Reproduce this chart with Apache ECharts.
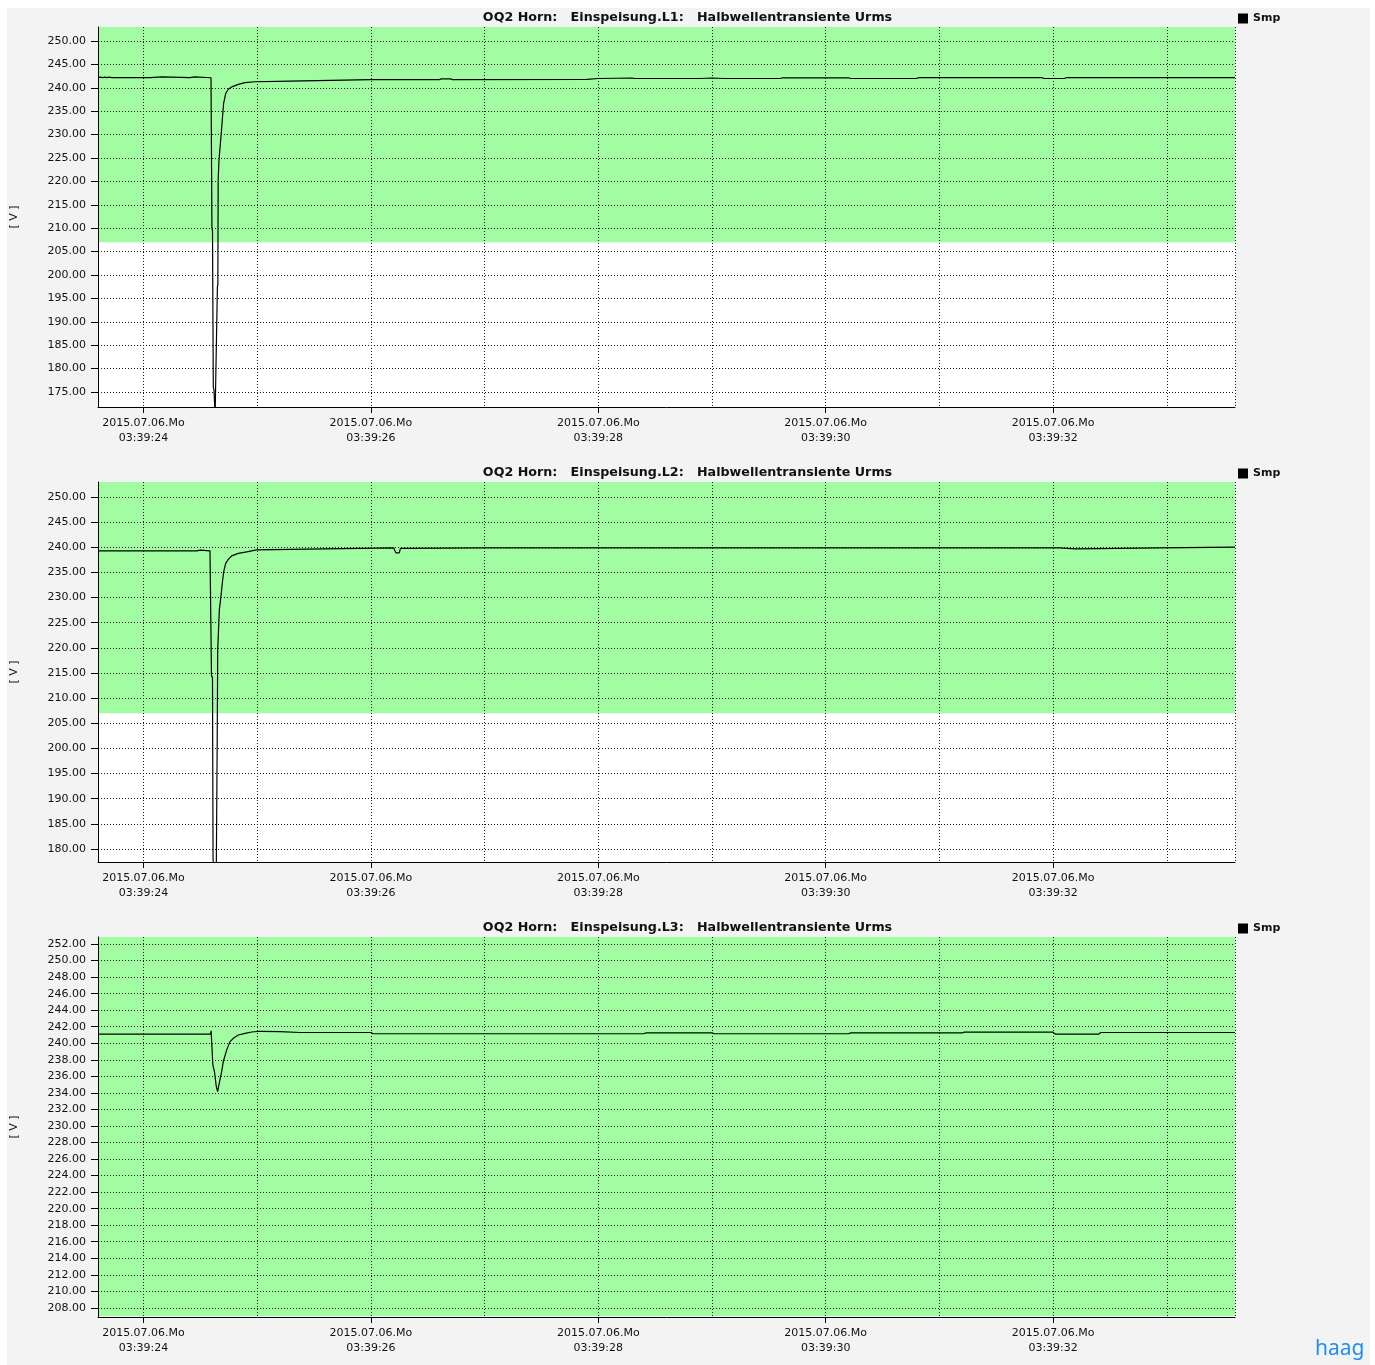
<!DOCTYPE html>
<html><head><meta charset="utf-8">
<script src="https://cdn.jsdelivr.net/npm/echarts@6/dist/echarts.min.js"></script>
<style>html,body{margin:0;padding:0;background:#fff}#c{width:1375px;height:1365px}</style>
</head><body><div id="c"></div>
<script>
// ---------- data ----------
const TITLES = [
  'OQ2 Horn:   Einspeisung.L1:   Halbwellentransiente Urms',
  'OQ2 Horn:   Einspeisung.L2:   Halbwellentransiente Urms',
  'OQ2 Horn:   Einspeisung.L3:   Halbwellentransiente Urms'
];
const SERIES_NAME = 'Smp';
const Y_UNIT = '[ V ]';
const DATE_LABEL = '2015.07.06.Mo';
const TIME_PREFIX = '03:39:';
const X_RANGE = [23.6, 33.6];          // seconds after 03:39:00
const X_TICKS = [24, 26, 28, 30, 32];
const LIMIT_LOW = 207;                 // lower edge of the green tolerance band

const Y1_RANGE = [171.8, 253.0];
const Y1_TICKS = [175,180,185,190,195,200,205,210,215,220,225,230,235,240,245,250];
const Y2_RANGE = [177.4, 253.0];
const Y2_TICKS = [180,185,190,195,200,205,210,215,220,225,230,235,240,245,250];
const Y3_RANGE = [206.9, 252.85];
const Y3_TICKS = [208,210,212,214,216,218,220,222,224,226,228,230,232,234,236,238,240,242,244,246,248,250,252];

// L1 samples: time [s], Urms [V]
const L1_T = [23.60,23.62,23.64,23.66,23.68,23.70,23.72,24.06,24.07,24.16,24.17,24.41,24.42,24.45,24.46,24.594,
  24.602,24.607,24.614,24.620,24.630,24.644,24.650,24.654,24.657,24.664,24.679,24.693,24.705,24.723,24.746,24.776,
  24.834,24.893,24.981,25.289,25.29,26.0,26.6,26.62,26.7,26.72,27.9,28.0,28.3,28.32,28.9,29.0,29.1,29.6,29.62,
  30.2,30.22,30.8,30.82,31.9,31.92,32.1,32.12,33.6];
const L1_V = [242.2,242.3,242.2,242.3,242.2,242.3,242.2,242.2,242.35,242.35,242.2,242.2,242.35,242.35,242.2,242.15,
  210.0,209.5,176.0,175.5,170.0,170.0,197.4,198.0,220.3,224.6,228.8,233.1,236.7,238.8,239.7,240.2,
  240.75,241.1,241.3,241.45,241.7,241.75,241.75,241.9,241.9,241.75,241.8,242.0,242.1,242.0,242.0,242.1,242.0,242.0,242.15,
  242.15,242.0,242.0,242.2,242.2,242.0,242.0,242.2,242.2];

// L2 samples
const L2_T = [23.60,24.47,24.48,24.50,24.51,24.585,24.594,24.598,24.607,24.612,24.620,24.640,24.648,24.653,24.667,
  24.681,24.693,24.705,24.723,24.746,24.776,24.834,24.908,24.996,25.289,25.29,26.2,26.22,26.25,26.26,27.0,28.0,
  32.05,32.06,32.2,32.21,32.94,32.95,33.6];
const L2_V = [239.3,239.3,239.45,239.45,239.3,239.3,239.2,214.6,214.0,178.0,175.0,175.0,200.0,219.6,227.5,
  230.2,232.8,235.1,236.8,237.6,238.3,238.8,239.1,239.5,239.6,239.9,239.9,238.9,238.9,239.8,239.9,239.9,
  239.9,239.7,239.7,239.9,239.9,240.05,240.05];

// L3 samples
const L3_T = [23.60,24.59,24.595,24.604,24.61,24.625,24.64,24.652,24.667,24.688,24.702,24.732,24.761,24.790,24.834,
  24.893,24.952,25.025,25.2,25.376,26.0,26.02,28.4,28.42,29.0,29.02,30.2,30.22,31.2,31.22,32.0,32.02,32.4,32.42,33.6];
const L3_V = [241.1,241.1,241.5,241.5,237.4,236.5,234.8,234.15,235.2,236.6,237.8,239.2,240.2,240.6,241.0,
  241.2,241.36,241.45,241.4,241.3,241.3,241.15,241.15,241.25,241.25,241.15,241.15,241.25,241.25,241.35,241.35,241.1,241.1,241.3,241.3];

// ---------- chart ----------
const FONT = 'DejaVu Sans';
const PANELS = [
  {t: L1_T, v: L1_V, range: Y1_RANGE, ticks: Y1_TICKS},
  {t: L2_T, v: L2_V, range: Y2_RANGE, ticks: Y2_TICKS},
  {t: L3_T, v: L3_V, range: Y3_RANGE, ticks: Y3_TICKS}
];
const GRID_TOP = [27, 482, 937];
const GRID_H = 380;

const grid = [], xAxis = [], yAxis = [], series = [], title = [], legend = [];
const dotted = {color: '#1a1a1a', width: 1, type: [1, 2]};

PANELS.forEach((p, i) => {
  grid.push({
    left: 98, right: 140, top: GRID_TOP[i], height: GRID_H,
    containLabel: false, outerBoundsMode: 'none',
    show: true, backgroundColor: '#ffffff', borderWidth: 0, z: -2
  });
  title.push({
    text: TITLES[i], left: 'center', top: GRID_TOP[i] - 16, padding: 0,
    textStyle: {fontFamily: FONT, fontSize: 12.7, fontWeight: 'bold', color: '#111'}
  });
  legend.push({
    data: [SERIES_NAME], left: 1238, top: GRID_TOP[i] - 14, padding: 0,
    icon: 'rect', itemWidth: 10, itemHeight: 10,
    textStyle: {fontFamily: FONT, fontSize: 11, fontWeight: 'bold', color: '#111'}
  });
  // grid lines every second
  xAxis.push({
    type: 'value', gridIndex: i, position: 'bottom', min: X_RANGE[0], max: X_RANGE[1], splitNumber: 10,
    axisLine: {show: false}, axisTick: {show: false}, axisLabel: {show: false},
    splitLine: {show: true, lineStyle: dotted}
  });
  // labelled ticks every two seconds
  xAxis.push({
    type: 'value', gridIndex: i, position: 'bottom', min: X_RANGE[0], max: X_RANGE[1],
    axisLine: {show: true, onZero: false, lineStyle: {color: '#000', width: 1}},
    axisTick: {show: true, length: 6, customValues: X_TICKS, lineStyle: {color: '#000'}},
    axisLabel: {
      show: true, customValues: X_TICKS, margin: 9, lineHeight: 15,
      fontFamily: FONT, fontSize: 11, color: '#111',
      formatter: v => DATE_LABEL + '\n' + TIME_PREFIX + String(Math.round(v)).padStart(2, '0')
    },
    splitLine: {show: false}
  });
  yAxis.push({
    type: 'value', gridIndex: i, min: p.range[0], max: p.range[1],
    name: Y_UNIT, nameLocation: 'middle', nameGap: 78, nameRotate: 90,
    nameTextStyle: {fontFamily: FONT, fontSize: 11, color: '#111'},
    axisLine: {show: true, lineStyle: {color: '#000', width: 1}},
    axisTick: {show: true, length: 7, customValues: p.ticks, lineStyle: {color: '#000'}},
    axisLabel: {
      show: true, customValues: p.ticks, margin: 12,
      fontFamily: FONT, fontSize: 11, color: '#111',
      formatter: v => v.toFixed(2)
    },
    splitLine: {show: true, lineStyle: dotted}
  });
  series.push({
    name: SERIES_NAME, type: 'line', xAxisIndex: i * 2, yAxisIndex: i,
    data: p.t.map((t, k) => [t, p.v[k]]),
    showSymbol: false, symbol: 'none', clip: true,
    itemStyle: {color: '#000'},
    lineStyle: {color: '#000', width: 1.2},
    markArea: {
      silent: true, z: -1,
      itemStyle: {color: '#a2fca2'},
      data: [[{yAxis: LIMIT_LOW}, {yAxis: p.range[1]}]]
    },
    z: 3
  });
});

const chart = echarts.init(document.getElementById('c'), null, {renderer: 'canvas'});
chart.setOption({
  animation: false,
  backgroundColor: '#ffffff',
  title, legend, grid, xAxis, yAxis, series,
  graphic: [
    {type: 'rect', z: -100, silent: true, shape: {x: 7, y: 8, width: 1363, height: 1357}, style: {fill: '#f3f3f3'}},
    {type: 'text', z: 10, left: 1315, top: 1339, silent: true,
     style: {text: 'haag', fill: '#1e8ff0', fontSize: 21, fontFamily: 'Noto Sans', fontWeight: 'normal'}}
  ]
});
</script></body></html>
